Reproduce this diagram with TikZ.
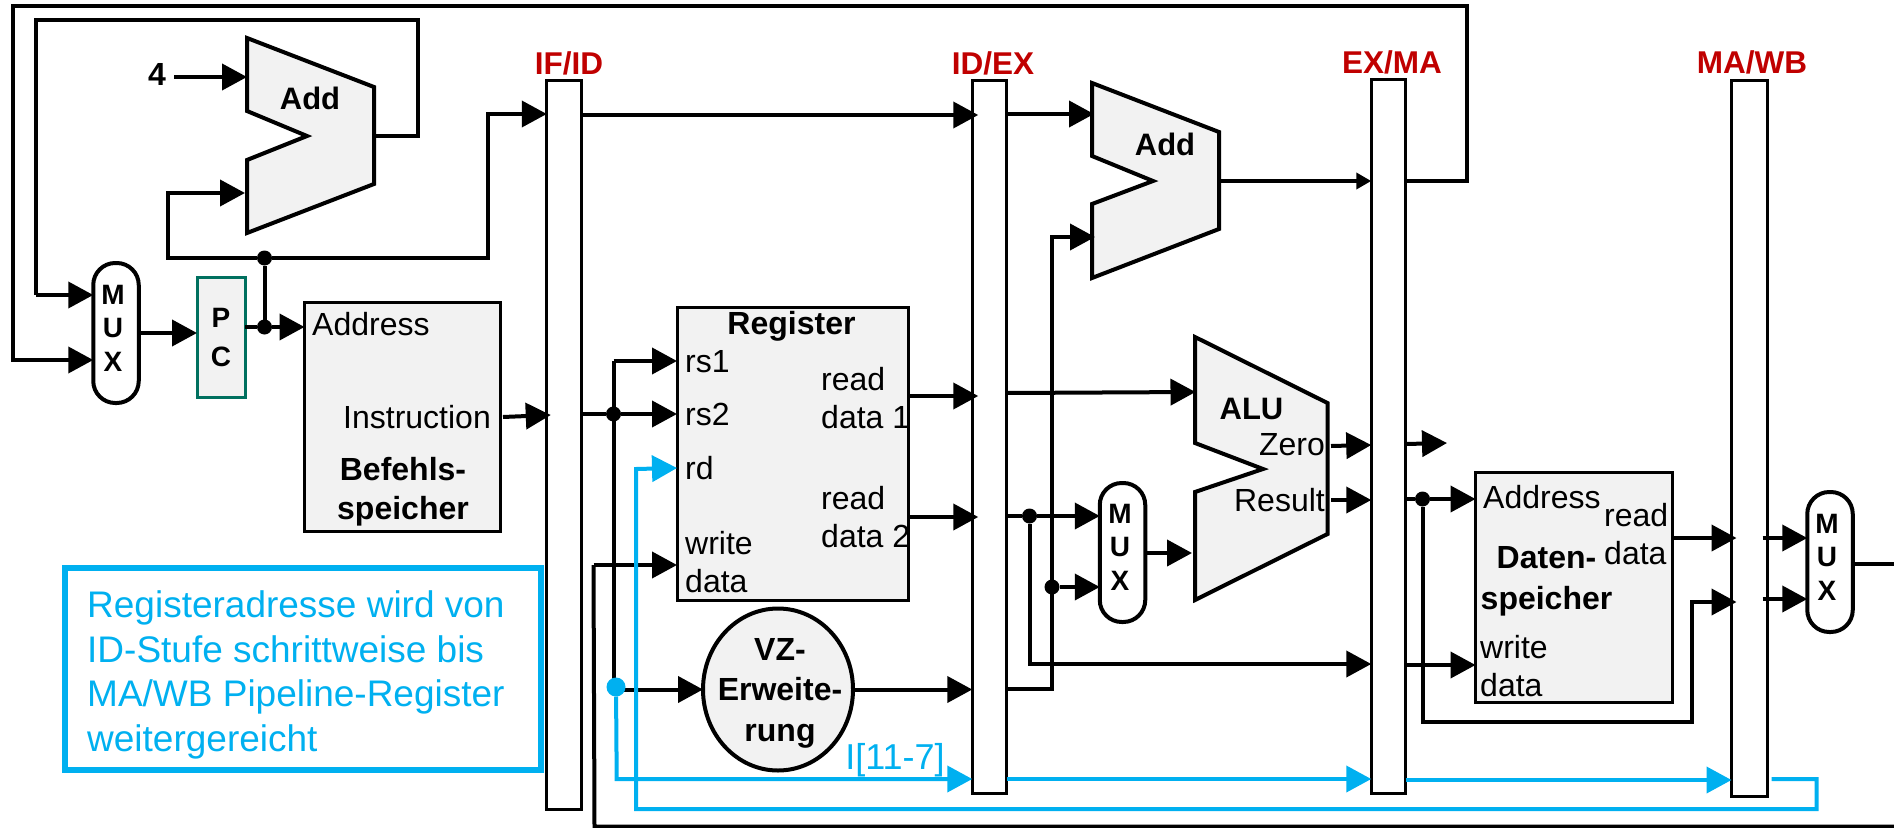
\documentclass[tikz,border=0pt]{standalone}
\usepackage{fontspec}
\setmainfont{Liberation Sans}
\usetikzlibrary{arrows.meta,shapes.geometric}
\definecolor{stagered}{HTML}{C00000}
\definecolor{pathblue}{HTML}{00B0F0}
\definecolor{pcgreen}{HTML}{00705F}
\definecolor{blockgray}{HTML}{F2F2F2}
\tikzset{
  block/.style={draw, line width=3pt, fill=blockgray, inner sep=0pt, outer sep=0pt},
  pipereg/.style={draw, line width=3pt, inner sep=0pt, outer sep=0pt, minimum width=34.5pt},
  muxbox/.style={draw, line width=4pt, rounded corners=22pt, inner sep=0pt, outer sep=0pt, minimum width=45.5pt},
  muxtext/.style={inner sep=0pt, align=center, font=\fontsize{28}{33.5}\selectfont\bfseries},
  addshape/.style={draw, line width=4pt, fill=blockgray, line join=miter},
  wire/.style={line width=4pt, -{Triangle[length=25pt,width=26pt]}},
  plainwire/.style={line width=4pt},
  bluewire/.style={wire, color=pathblue},
  dot/.style={circle, fill=black, inner sep=0pt, outer sep=0pt, minimum size=15pt},
  pintext/.style={inner sep=0pt, align=left, font=\fontsize{32}{38}\selectfont},
  blocktitle/.style={inner sep=0pt, align=center, font=\fontsize{32}{39}\selectfont\bfseries},
  addtitle/.style={inner sep=0pt, font=\fontsize{31}{36}\selectfont\bfseries},
  stagelabel/.style={inner sep=0pt, text=stagered, font=\fontsize{31.5}{36}\selectfont\bfseries}
}
\begin{document}
\begin{tikzpicture}[x=1pt, y=-1pt]
    \useasboundingbox (0,0) rectangle (1894,827);

    % Pipeline registers
    \node[pipereg, minimum height=729pt] (ifid) at (564,444.5) {};
    \node[pipereg, minimum height=713pt] (idex) at (989.5,436.5) {};
    \node[pipereg, minimum height=714pt] (exma) at (1388.5,436) {};
    \node[pipereg, minimum height=716pt, minimum width=36pt] (mawb) at (1749.5,438) {};
    \node[stagelabel] (ifidlabel) at (569,63) {IF/ID};
    \node[stagelabel] (idexlabel) at (993,63) {ID/EX};
    \node[stagelabel] (exmalabel) at (1392,62) {EX/MA};
    \node[stagelabel] (mawblabel) at (1752,62) {MA/WB};

    % Adders and ALU
    \draw[addshape] (247,38) -- (374,87) -- (374,184) -- (247,233) -- (247,160) -- (307,136) -- (247,111) -- cycle;
    \node[addtitle] (addpc) at (310,98) {Add};
    \draw[addshape] (1092,83) -- (1219,132) -- (1219,229) -- (1092,278) -- (1092,204) -- (1153,181) -- (1092,156) -- cycle;
    \node[addtitle] (addbranch) at (1165,144) {Add};
    \draw[addshape] (1195,337) -- (1327.5,403) -- (1327.5,534) -- (1195,600) -- (1195,492) -- (1263,469) -- (1195,443) -- cycle;
    \node[addtitle] (alu) at (1251.5,409) {ALU};
    \node[pintext, anchor=east] (zero) at (1325,445) {Zero};
    \node[pintext, anchor=east] (result) at (1325,500) {Result};

    % Multiplexers
    \node[muxbox, minimum height=140pt] (muxpc) at (116,333) {};
    \node[muxtext] (muxpctext) at (113,328) {M\\U\\X};
    \node[muxbox, minimum height=139pt] (muxalu) at (1122.5,552.5) {};
    \node[muxtext] (muxalutext) at (1120,547) {M\\U\\X};
    \node[muxbox, minimum height=140pt] (muxwb) at (1830,562) {};
    \node[muxtext] (muxwbtext) at (1827,557) {M\\U\\X};

    % Fetch stage
    \node[block, draw=pcgreen, minimum width=48pt, minimum height=120pt, align=center, font=\fontsize{28}{39}\selectfont\bfseries] (pc) at (221,337) {P\\C};
    \node[block, minimum width=195.5pt, minimum height=229pt] (imem) at (402.25,416.5) {};
    \node[pintext, anchor=base west] (imemaddr) at (312,335) {Address};
    \node[pintext, anchor=east] (instr) at (491,417) {Instruction};
    \node[blocktitle] (imemname) at (403,492) {Befehls-\\speicher};
    \node[inner sep=0pt, font=\fontsize{32}{36}\selectfont\bfseries] (four) at (157,74) {4};

    % Decode stage
    \node[block, minimum width=231.5pt, minimum height=293pt] (regfile) at (792.75,453.5) {};
    \node[blocktitle] (regname) at (791.5,326) {Register};
    \node[pintext, anchor=west] (rsone) at (685,362) {rs1};
    \node[pintext, anchor=west] (rstwo) at (685,414) {rs2};
    \node[pintext, anchor=west] (rd) at (685,468) {rd};
    \node[pintext, anchor=west] (wdata) at (685,562.5) {write\\data};
    \node[pintext, anchor=west] (rdataone) at (821,398) {read\\data 1};
    \node[pintext, anchor=west] (rdatatwo) at (821,517) {read\\data 2};
    \node[ellipse, block, line width=4pt, minimum width=150pt, minimum height=162pt] (vz) at (778,689.5) {};
    \node[blocktitle, font=\fontsize{32}{40.5}\selectfont\bfseries] (vzname) at (780,693) {VZ-\\Erweite-\\rung};

    % Memory stage
    \node[block, minimum width=196.5pt, minimum height=230pt] (dmem) at (1573.75,587) {};
    \node[pintext, anchor=west] (dmemaddr) at (1483,497) {Address};
    \node[pintext, anchor=west] (dmemread) at (1604,534) {read\\data};
    \node[blocktitle, font=\fontsize{32}{41}\selectfont\bfseries] (dmemname) at (1546.5,581.5) {Daten-\\speicher};
    \node[pintext, anchor=west] (dmemwrite) at (1480,666) {write\\data};

    % Free wire ends
    \coordinate (zeroend) at (1447,443);
    \coordinate (wbout) at (1894,564);
    \coordinate (wbback) at (1894,826.5);

    % Junctions
    \node[dot] (pcup) at (264.5,258) {};
    \node[dot] (pcout) at (264.5,327) {};
    \node[dot] (instrout) at (613.5,414) {};
    \node[dot] (rdtwoout) at (1029.5,516) {};
    \node[dot] (immout) at (1052,587) {};
    \node[dot] (resultout) at (1422.5,499) {};

    % Connect nodes: fetch
    \draw[wire] (four.east |- 0,77) ++(8,0) -- (247,77);
    \draw[plainwire] (374,136) -- (418,136) -- (418,20) -- (36,20) -- (36,295);
    \draw[wire] (36,295) -- (muxpc.west |- 0,295);
    \draw[wire, line join=miter] (exma.east |- 0,181) -- (1467,181) -- (1467,5.5) -- (13,5.5) -- (13,360) -- (muxpc.west |- 0,360);
    \draw[wire] (muxpc.east |- 0,333) -- (pc.west |- 0,333);
    \draw[plainwire] (pc.east |- pcout) -- (pcout);
    \draw[wire] (pcout) -- (imem.west |- pcout);
    \draw[plainwire] (pcout) -- (pcup);
    \draw[wire] (pcup) -- (168,258) -- (168,193) -- (245,193);
    \draw[wire] (pcup) -- (488,258) -- (488,114) -- (ifid.west |- 0,114);
    \draw[wire] (imem.east |- 0,417) ++(3,0) -- ([xshift=4pt]ifid.west |- 0,415);

    % Connect nodes: decode
    \draw[wire] (ifid.east |- 0,115) -- ([xshift=6pt]idex.west |- 0,115);
    \draw[plainwire] (ifid.east |- instrout) -- (instrout);
    \draw[wire] (instrout) -- (regfile.west |- rstwo);
    \draw[plainwire] (613.5,361) -- (613.5,689.5);
    \draw[wire] (613.5,361) -- (regfile.west |- 0,361);
    \draw[plainwire] (wbback) -- (594.5,826.5) -- (593.5,565);
    \draw[wire] (593.5,565) -- (regfile.west |- 0,565);
    \draw[wire] (613.5,0 |- vz.west) -- (vz.west);
    \draw[wire] (vz.east) -- (idex.west |- vz.east);
    \draw[wire] (regfile.east |- 0,396) -- ([xshift=6pt]idex.west |- 0,396);
    \draw[wire] (regfile.east |- 0,517) -- ([xshift=6pt]idex.west |- 0,517);

    % Connect nodes: execute
    \draw[wire] (idex.east |- 0,114) -- (1094,114);
    \draw[wire] (idex.east |- 0,393) -- (1195.5,392);
    \draw[plainwire] (idex.east |- rdtwoout) -- (rdtwoout);
    \draw[wire] (rdtwoout) -- (muxalu.west |- rdtwoout);
    \draw[wire] (rdtwoout) -- (1029.5,664) -- (exma.west |- 0,664);
    \draw[wire] (idex.east |- 0,689) -- (1052,689) -- (1052,237) -- (1095,237);
    \draw[wire] (immout) -- (muxalu.west |- immout);
    \draw[wire] (muxalu.east |- 0,553) -- (1192,553);
    \draw[line width=4pt, -{Triangle[length=15pt,width=16pt]}] (1219,181) -- (exma.west |- 0,181);
    \draw[wire] (zero.east) ++(6,1) -- (exma.west |- zero.east);
    \draw[wire] (result.east) ++(6,0) -- (exma.west |- result.east);

    % Connect nodes: memory and write back
    \draw[wire] (exma.east |- 0,444) -- (zeroend);
    \draw[plainwire] (exma.east |- resultout) -- (resultout);
    \draw[wire] (resultout) -- (dmem.west |- resultout);
    \draw[wire] (exma.east |- 0,665) -- (dmem.west |- 0,665);
    \draw[wire] (resultout) -- (1422.5,722) -- (1691.5,722) -- (1691.5,602) -- ([xshift=5pt]mawb.west |- 0,602);
    \draw[wire] (dmem.east |- 0,538) -- ([xshift=5pt]mawb.west |- 0,538);
    \draw[wire] ([xshift=-5pt]mawb.east |- 0,538) -- (muxwb.west |- 0,538);
    \draw[wire] ([xshift=-5pt]mawb.east |- 0,599) -- (muxwb.west |- 0,599);
    \draw[plainwire] (muxwb.east |- wbout) -- (wbout);

    % Register address path
    \node[draw=pathblue, line width=6pt, minimum width=476pt, minimum height=202pt, outer sep=0pt] (note) at (303,669) {};
    \node[inner sep=0pt, anchor=west, align=left, text=pathblue, font=\fontsize{37}{44.8}\selectfont] (notetext) at (87,675) {Registeradresse wird von\\ID-Stufe schrittweise bis\\MA/WB Pipeline-Register\\weitergereicht};
    \node[dot, fill=pathblue, minimum size=19pt] (rdtap) at (616,687) {};
    \draw[bluewire] (rdtap) -- (616.7,779) -- (idex.west |- 0,779);
    \draw[bluewire] (idex.east |- 0,779) -- (exma.west |- 0,779);
    \draw[bluewire] (exma.east |- 0,780) -- (mawb.west |- 0,780);
    \draw[bluewire] (mawb.east |- 0,779) ++(4,0) -- (1816.5,779) -- (1816.5,809) -- (636,809) -- (636,469) -- (regfile.west |- rd);
    \node[inner sep=0pt, text=pathblue, font=\fontsize{36}{40}\selectfont] (rdfield) at (895,760) {I[11-7]};
\end{tikzpicture}
\end{document}
